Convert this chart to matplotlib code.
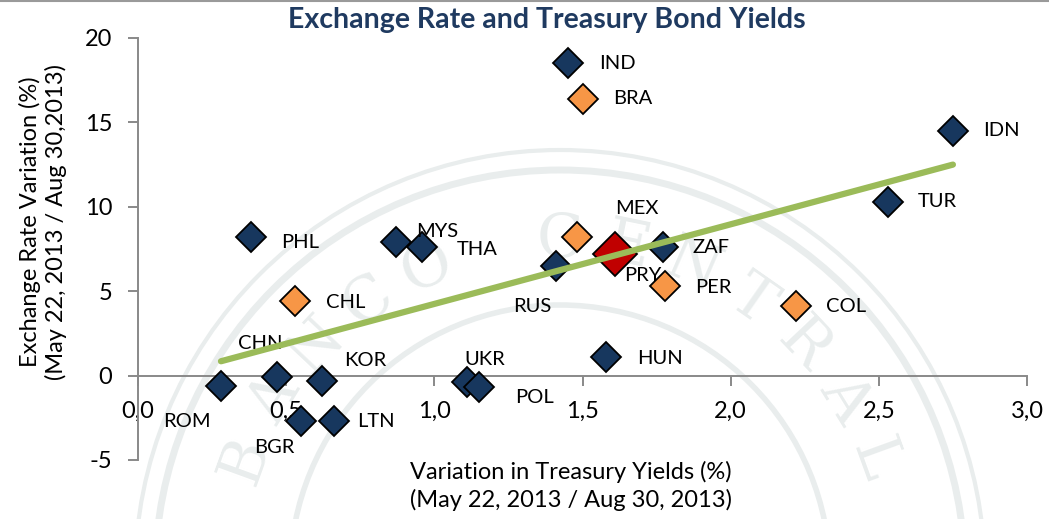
#!/usr/bin/env python3
# -*- coding: utf-8 -*-
# ============================================================================
# Title     : Exchange Rate and Treasury Bond Yields (scatter with trend)
# ----------------------------------------------------------------------------
# Description :
#   Scatter of exchange-rate variation against variation in treasury yields
#   for emerging economies (May 22, 2013 / Aug 30, 2013), with a linear
#   trend line and a faint seal watermark in the background.
# ============================================================================

# -----------------------------------------------------------------------------
# Import
# -----------------------------------------------------------------------------

import matplotlib
matplotlib.use("Agg")
import matplotlib.pyplot as plt
import numpy as np
from matplotlib.lines import Line2D
from matplotlib.patches import Circle

# -----------------------------------------------------------------------------
# Data
# -----------------------------------------------------------------------------

COUNTRIES = ["IND", "BRA", "IDN", "TUR", "PHL", "MYS", "THA", "MEX", "PRY",
             "ZAF", "RUS", "PER", "COL", "HUN", "CHL", "CHN", "KOR", "ROM",
             "BGR", "LTN", "UKR", "POL"]
YIELD_VAR = [1.45, 1.50, 2.75, 2.53, 0.38, 0.87, 0.96, 1.48, 1.61,
             1.77, 1.41, 1.78, 2.22, 1.58, 0.53, 0.47, 0.62, 0.28,
             0.55, 0.66, 1.11, 1.15]
FX_VAR = [18.5, 16.4, 14.5, 10.3, 8.2, 7.9, 7.6, 8.2, 7.2,
          7.6, 6.5, 5.3, 4.1, 1.1, 4.4, -0.1, -0.3, -0.6,
          -2.7, -2.7, -0.4, -0.7]
# region group: "em" (navy), "latam" (orange), "pry" (red, highlighted)
GROUPS = ["em", "latam", "em", "em", "em", "em", "em", "latam", "pry",
          "em", "em", "latam", "latam", "em", "latam", "em", "em", "em",
          "em", "em", "em", "em"]

TREND_X = [0.28, 2.75]
TREND_Y = [0.85, 12.5]

X_TICKS = [0.0, 0.5, 1.0, 1.5, 2.0, 2.5, 3.0]
X_TICK_LABELS = ["0,0", "0,5", "1,0", "1,5", "2,0", "2,5", "3,0"]
Y_TICKS = [-5, 0, 5, 10, 15, 20]
Y_TICK_LABELS = ["-5", "0", "5", "10", "15", "20"]

TITLE = "Exchange Rate and Treasury Bond Yields"
X_LABEL = "Variation in Treasury Yields (%)\n(May 22, 2013 / Aug 30, 2013)"
Y_LABEL = "Exchange Rate Variation (%)\n(May 22, 2013 / Aug 30,2013)"
WATERMARK = "BANCO CENTRAL"

# -----------------------------------------------------------------------------
# Style
# -----------------------------------------------------------------------------

W_PX, H_PX, DPI = 1049, 519, 100
COLORS = {"em": "#17375E", "latam": "#F79646", "pry": "#C00000"}
SIZES = {"em": 15.5, "latam": 15.5, "pry": 22}
AXIS_GRAY = "#898989"
TITLE_COLOR = "#1F3A60"
TREND_COLOR = "#9BBB59"
WM_COLOR = "#E9EDED"

# label offsets in pixels (left edge of text relative to marker centre)
LABEL_OFFSETS = {
    "IND": (31, 0), "BRA": (31, 0), "IDN": (30, 0), "TUR": (30, 0),
    "PHL": (31, -5), "MYS": (20, 11), "THA": (34, -2), "MEX": (39, 29),
    "PRY": (9, -21), "ZAF": (30, 0), "RUS": (-43, -41), "PER": (30, -1),
    "COL": (30, 0), "HUN": (31, -1), "CHL": (31, -1), "CHN": (-39, 34),
    "KOR": (22, 20), "ROM": (-58, -36), "BGR": (-47, -26), "LTN": (24, 0),
    "UKR": (-3, 23), "POL": (36, -10),
}

plt.rcParams["font.family"] = ["Lato", "DejaVu Sans"]


# -----------------------------------------------------------------------------
# Function : draw_watermark
# Description :
#   Faint seal in the background: rings plus lettering along an arc.
# -----------------------------------------------------------------------------
def draw_watermark(fig) -> None:
    wm = fig.add_axes([0, 0, 1, 1], zorder=0)
    wm.set_xlim(0, W_PX)
    wm.set_ylim(H_PX, 0)
    wm.axis("off")

    cx, cy = 560, 575
    for r, lw in [(405, 5), (425, 3), (270, 4)]:
        wm.add_patch(Circle((cx, cy), r, fill=False, ec=WM_COLOR, lw=lw))

    angles = np.linspace(160, 20, len(WATERMARK))
    radius = 335
    for ch, a in zip(WATERMARK, angles):
        if ch == " ":
            continue
        t = np.deg2rad(a)
        x = cx + radius * np.cos(t)
        y = cy - radius * np.sin(t)
        wm.text(x, y, ch, rotation=a - 90, ha="center", va="center",
                fontsize=44, color=WM_COLOR, family="DejaVu Serif")


# -----------------------------------------------------------------------------
# Function : draw_chart
# -----------------------------------------------------------------------------
def draw_chart() -> None:
    fig = plt.figure(figsize=(W_PX / DPI, H_PX / DPI), dpi=DPI)
    fig.patch.set_facecolor("white")
    draw_watermark(fig)
    fig.add_artist(Line2D([0, 1], [0.998, 0.998], color="#9A9A9A", lw=1.5))

    ax = fig.add_axes([138 / W_PX, 1 - 460 / H_PX,
                       (1027 - 138) / W_PX, (460 - 38) / H_PX], zorder=1)
    ax.patch.set_alpha(0)
    ax.set_xlim(0, 3)
    ax.set_ylim(-5, 20)

    for side in ("top", "right"):
        ax.spines[side].set_visible(False)
    ax.spines["bottom"].set_position(("data", 0))
    for side in ("left", "bottom"):
        ax.spines[side].set_color(AXIS_GRAY)
        ax.spines[side].set_linewidth(1.4)

    ax.set_xticks(X_TICKS)
    ax.set_xticklabels(X_TICK_LABELS)
    ax.set_yticks(Y_TICKS)
    ax.set_yticklabels(Y_TICK_LABELS)
    ax.tick_params(axis="both", direction="out", length=7, width=1.4,
                   color=AXIS_GRAY, labelsize=17, pad=11.5,
                   labelcolor="black")

    for name, x, y, g in zip(COUNTRIES, YIELD_VAR, FX_VAR, GROUPS):
        ax.plot(x, y, marker="D", ms=SIZES[g], mfc=COLORS[g], mec="black",
                mew=1.3, ls="none", zorder=3, clip_on=False)
        dx, dy = LABEL_OFFSETS[name]
        ax.annotate(name, (x, y), xytext=(dx, dy), textcoords="offset pixels",
                    ha="left", va="center", fontsize=14.5, zorder=4)

    ax.plot(TREND_X, TREND_Y, color=TREND_COLOR, lw=4.5,
            solid_capstyle="round", zorder=5)

    fig.text(547 / W_PX, 1 - 20 / H_PX, TITLE, ha="center", va="center",
             fontsize=20.5, fontweight="bold", color=TITLE_COLOR)
    fig.text(571 / W_PX, 1 - 486 / H_PX, X_LABEL, ha="center", va="center",
             fontsize=17, linespacing=1.28)
    fig.text(43 / W_PX, 1 - 222 / H_PX, Y_LABEL, ha="center", va="center",
             fontsize=17, rotation=90, linespacing=1.2)

    fig.savefig("out.png", dpi=DPI)


# -----------------------------------------------------------------------------
# Entry point
# -----------------------------------------------------------------------------

if __name__ == "__main__":
    draw_chart()

# end of file
